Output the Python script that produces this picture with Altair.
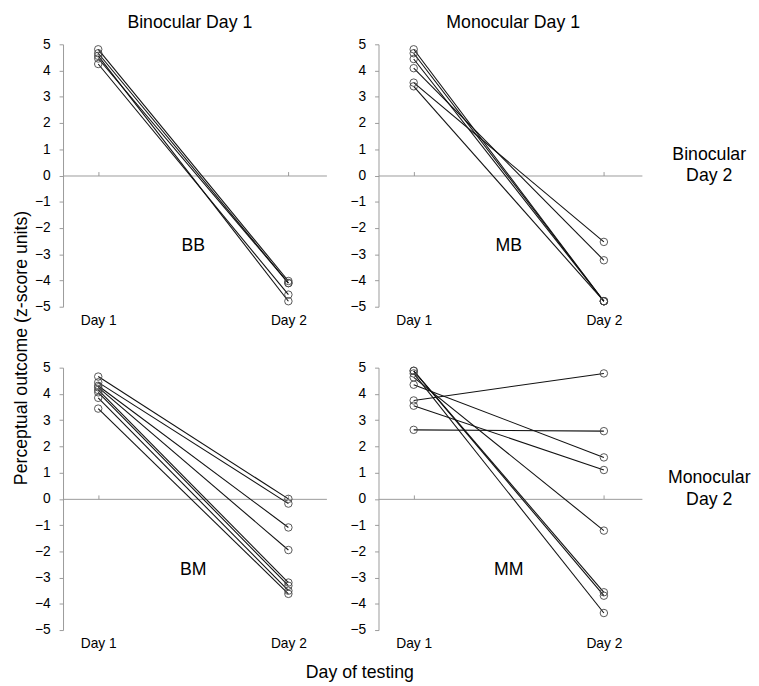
import altair as alt
import pandas as pd

# ---------------- data ----------------
panel_codes = ["BB", "MB", "BM", "MM"]
col_titles = ["Binocular Day 1", "Monocular Day 1"]
row_titles = [["Binocular", "Day 2"], ["Monocular", "Day 2"]]
day_values = [1, 2]
y_tick_values = [-5, -4, -3, -2, -1, 0, 1, 2, 3, 4, 5]

bb_day1 = [4.81, 4.66, 4.56, 4.46, 4.25]
bb_day2 = [-4.02, -4.10, -4.79, -4.10, -4.54]

mb_day1 = [4.81, 4.66, 4.44, 4.09, 3.54, 3.40]
mb_day2 = [-4.79, -4.79, -4.79, -3.23, -2.53, -4.79]

bm_day1 = [4.66, 4.44, 4.31, 4.25, 4.15, 4.06, 3.85, 3.44]
bm_day2 = [0.00, -0.18, -1.09, -1.95, -3.19, -3.31, -3.50, -3.62]

mm_day1 = [4.88, 4.88, 4.78, 4.63, 4.35, 3.75, 3.55, 2.63]
mm_day2 = [-3.56, -3.69, -4.35, -1.21, 1.58, 4.78, 1.10, 2.58]

label_x = 1.5
label_y = -2.7

series = {
    "BB": (bb_day1, bb_day2),
    "MB": (mb_day1, mb_day2),
    "BM": (bm_day1, bm_day2),
    "MM": (mm_day1, mm_day2),
}

records = []
for code, (d1, d2) in series.items():
    for i, (a, b) in enumerate(zip(d1, d2)):
        records.append({"panel": code, "subject": i, "day": 1, "value": a})
        records.append({"panel": code, "subject": i, "day": 2, "value": b})
df = pd.DataFrame(records)

# ---------------- style ----------------
W = 268
H = 267
X_DOMAIN = [0.815, 2.2]
AXIS_GRAY = "#9a9a9a"
FONT = "Liberation Sans"

x_scale = alt.Scale(domain=X_DOMAIN, nice=False, zero=False)
y_scale = alt.Scale(domain=[-5, 5], nice=False, zero=False)


def panel(code, col_title=None, row_title=None, title_dx=0):
    d = df[df["panel"] == code]
    base = alt.Chart(d)

    x_bottom = alt.X(
        "day:Q", scale=x_scale,
        axis=alt.Axis(values=day_values, labelExpr="'Day ' + datum.value",
                      domain=False, ticks=False, tickSize=0, grid=False,
                      labelFontSize=14, labelPadding=7, labelColor="#000",
                      title=None, orient="bottom"))
    y_left = alt.Y(
        "value:Q", scale=y_scale,
        axis=alt.Axis(values=y_tick_values, grid=False, domainColor=AXIS_GRAY,
                      tickColor=AXIS_GRAY, tickSize=4, labelPadding=9,
                      labelFontSize=14, labelColor="#000", title=None,
                      orient="left"))

    lines = base.mark_line(color="#111", strokeWidth=1.1).encode(
        x=x_bottom, y=y_left, detail="subject:N")

    x_zero = alt.X(
        "day:Q", scale=x_scale,
        axis=alt.Axis(values=day_values, orient="top", offset=-H / 2,
                      labels=False, grid=False, domainColor=AXIS_GRAY,
                      tickColor=AXIS_GRAY, tickSize=4, title=None))
    pts = base.mark_point(shape="circle", filled=False, color="#444",
                          size=58, strokeWidth=0.9, opacity=1).encode(
        x=x_zero, y=alt.Y("value:Q", scale=y_scale, axis=None))

    lab_df = pd.DataFrame({"code": [code], "x": [label_x], "y": [label_y]})
    if row_title is not None:
        y_right = alt.Y(
            "y:Q", scale=y_scale,
            axis=alt.Axis(orient="right", labels=False, ticks=False,
                          domain=False, grid=False, title=row_title,
                          titleAngle=0, titleFontSize=18,
                          titleFontWeight="normal", titleAlign="center",
                          titleBaseline="middle", titleX=68, titleY=112,
                          titleLineHeight=22, titleColor="#000"))
    else:
        y_right = alt.Y("y:Q", scale=y_scale, axis=None)
    lab = alt.Chart(lab_df).mark_text(fontSize=18, color="#000").encode(
        x=alt.X("x:Q", scale=x_scale, axis=None), y=y_right, text="code:N")

    ch = alt.layer(lines, pts, lab).resolve_axis(x="independent",
                                                 y="independent")
    props = dict(width=W, height=H)
    if col_title is not None:
        props["title"] = alt.TitleParams(col_title, fontSize=18,
                                         fontWeight="normal", anchor="middle",
                                         frame="group", offset=6, dx=title_dx,
                                         color="#000")
    return ch.properties(**props)


top = alt.hconcat(
    panel("BB", col_title=col_titles[0], title_dx=-5),
    panel("MB", col_title=col_titles[1], row_title=row_titles[0], title_dx=3),
    spacing=24)
bottom = alt.hconcat(
    panel("BM"),
    panel("MM", row_title=row_titles[1]),
    spacing=24)

inner = alt.vconcat(
    top, bottom, spacing=34,
    title=alt.TitleParams("Day of testing", orient="bottom", fontSize=18,
                          fontWeight="normal", anchor="middle", offset=14,
                          dx=-33, color="#000"))

chart = alt.hconcat(
    inner,
    title=alt.TitleParams("Perceptual outcome (z-score units)", orient="left",
                          fontSize=18, fontWeight="normal", anchor="middle",
                          offset=4, color="#000"),
).properties(padding={"left": 5, "top": 0, "right": 0, "bottom": 0}
             ).configure(font=FONT).configure_view(stroke=None)

chart.save("out.html", embed_options={"renderer": "svg", "actions": False})
